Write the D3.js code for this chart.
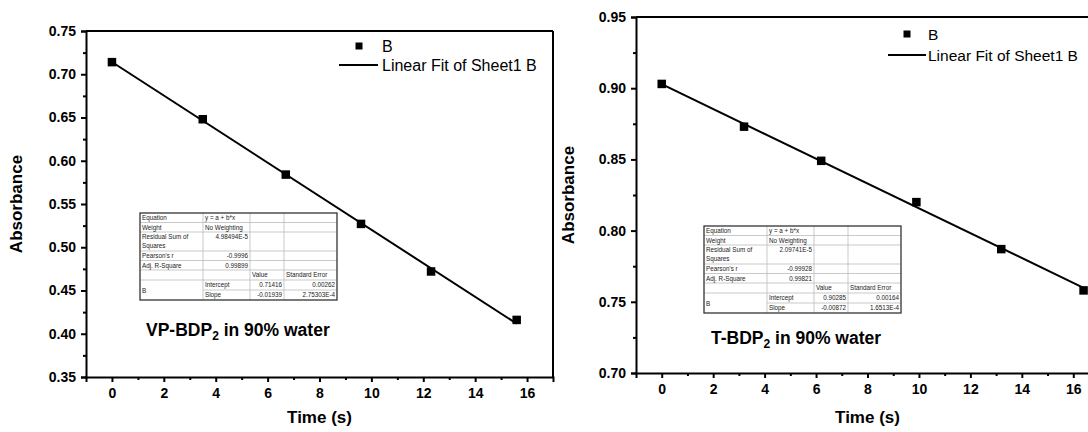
<!DOCTYPE html>
<html><head><meta charset="utf-8">
<script src="https://cdn.jsdelivr.net/npm/d3@7"></script>
<style>
html,body{margin:0;padding:0;background:#fff;}
svg{display:block;font-family:Arial,"Liberation Sans",sans-serif;}
</style></head>
<body>
<svg id="c" width="1088" height="432"></svg>
<script>
// ---- data ----
const timeVP = [0, 3.5, 6.7, 9.6, 12.3, 15.6];
const absVP  = [0.714, 0.648, 0.584, 0.527, 0.472, 0.416];
const fitVP  = {intercept: 0.71416, slope: -0.01939};
const timeT  = [0, 3.2, 6.2, 9.9, 13.2, 16.4];
const absT   = [0.903, 0.873, 0.849, 0.820, 0.787, 0.758];
const fitT   = {intercept: 0.90285, slope: -0.00872};
const xTicks = [0, 2, 4, 6, 8, 10, 12, 14, 16];
const yTicksVP = [0.35, 0.40, 0.45, 0.50, 0.55, 0.60, 0.65, 0.70, 0.75];
const yTicksT  = [0.70, 0.75, 0.80, 0.85, 0.90, 0.95];
const tableVP = [["Equation","y = a + b*x","",""],["Weight","No Weighting","",""],["Residual Sum of\nSquares","4.98494E-5","",""],["Pearson's r","-0.9996","",""],["Adj. R-Square","0.99899","",""],["","","Value","Standard Error"],["B","Intercept","0.71416","0.00262"],["","Slope","-0.01939","2.75303E-4"]];
const tableT = [["Equation","y = a + b*x","",""],["Weight","No Weighting","",""],["Residual Sum of\nSquares","2.09741E-5","",""],["Pearson's r","-0.99928","",""],["Adj. R-Square","0.99821","",""],["","","Value","Standard Error"],["B","Intercept","0.90285","0.00164"],["","Slope","-0.00872","1.6513E-4"]];
const legendLabels = ["B", "Linear Fit of Sheet1 B"];

const svg = d3.select("#c");
const FONT = "Arial,'Liberation Sans',sans-serif";

function panel(o) {
  const g = svg.append("g");
  const x = d3.scaleLinear().domain([-1, 17]).range([o.left, o.right]);
  const y = d3.scaleLinear().domain(o.ydom).range([o.bottom, o.top]);
  // frame
  g.append("line").attr("x1", o.left).attr("x2", o.right).attr("y1", o.top).attr("y2", o.top).attr("stroke","#000").attr("stroke-width",2);
  g.append("line").attr("x1", o.right).attr("x2", o.right).attr("y1", o.top).attr("y2", o.bottom).attr("stroke","#000").attr("stroke-width",2);
  // x axis
  const xMinor = d3.range(1, 17, 2);
  const xa = g.append("g").attr("transform", `translate(0,${o.bottom})`)
    .call(d3.axisBottom(x).tickValues(xTicks).tickSize(5).tickPadding(6).tickFormat(d3.format("d")));
  xa.select(".domain").attr("stroke-width", 2);
  xa.selectAll(".tick line").attr("stroke-width", 2);
  xa.selectAll("text").attr("font-size", 14).attr("font-weight","bold").attr("font-family",FONT);
  g.append("g").attr("transform", `translate(0,${o.bottom})`)
    .call(d3.axisBottom(x).tickValues(xMinor).tickSize(3).tickFormat(""))
    .call(s => { s.select(".domain").remove(); s.selectAll("line").attr("stroke-width",2); });
  // y axis
  const ya = g.append("g").attr("transform", `translate(${o.left},0)`)
    .call(d3.axisLeft(y).tickValues(o.yticks).tickSize(5).tickPadding(5).tickFormat(d3.format(".2f")));
  ya.select(".domain").attr("stroke-width", 2);
  ya.selectAll(".tick line").attr("stroke-width", 2);
  ya.selectAll("text").attr("font-size", 14).attr("font-weight","bold").attr("font-family",FONT);
  const yMinor = o.yticks.slice(0, -1).map((v, i) => (v + o.yticks[i + 1]) / 2);
  g.append("g").attr("transform", `translate(${o.left},0)`)
    .call(d3.axisLeft(y).tickValues(yMinor).tickSize(3).tickFormat(""))
    .call(s => { s.select(".domain").remove(); s.selectAll("line").attr("stroke-width",2); });
  // axis titles
  g.append("text").attr("transform", `translate(${o.ytx},${(o.top + o.bottom) / 2}) rotate(-90)`)
    .attr("text-anchor","middle").attr("font-size",17).attr("font-weight","bold").text("Absorbance");
  g.append("text").attr("x", x(8)).attr("y", o.xty).attr("text-anchor","middle")
    .attr("font-size",17).attr("font-weight","bold").text("Time (s)");
  // fit line
  const t0 = o.t[0], t1 = o.t[o.t.length - 1];
  g.append("line").attr("x1", x(t0)).attr("y1", y(o.fit.intercept + o.fit.slope * t0))
    .attr("x2", x(t1)).attr("y2", y(o.fit.intercept + o.fit.slope * t1))
    .attr("stroke","#000").attr("stroke-width",2);
  // points
  g.selectAll("rect.pt").data(o.t.map((t, i) => [t, o.a[i]])).join("rect").attr("class","pt")
    .attr("x", d => x(d[0]) - 4.25).attr("y", d => y(d[1]) - 4.25).attr("width", 8.5).attr("height", 8.5).attr("fill","#000");
  // legend
  const L = o.legend;
  g.append("rect").attr("x", L.mx - 3.5).attr("y", L.my - 3.5).attr("width", 7).attr("height", 7).attr("fill","#000");
  g.append("text").attr("x", L.tx).attr("y", L.my + 6).attr("font-size",L.fs).text(legendLabels[0]);
  g.append("line").attr("x1", L.lx1).attr("x2", L.lx2).attr("y1", L.ly).attr("y2", L.ly).attr("stroke","#000").attr("stroke-width",2);
  g.append("text").attr("x", L.tx).attr("y", L.ly + 6).attr("font-size",L.fs).text(legendLabels[1]);
  // annotation
  const an = g.append("text").attr("x", o.ann.x).attr("y", o.ann.y).attr("font-size",17.5).attr("font-weight","bold");
  an.append("tspan").text(o.ann.pre);
  an.append("tspan").attr("font-size",12).attr("dy",4).text("2");
  an.append("tspan").attr("dy",-4).text(" in 90% water");
  // table
  drawTable(g, o.table, o.tab.x, o.tab.y);
}

function drawTable(g, rows, tx, ty) {
  const colW = [63, 47, 34, 53];
  const rowH = [9.5, 9.5, 19, 9.5, 9.5, 10, 10, 10];
  const colX = [0]; colW.forEach(w => colX.push(colX[colX.length - 1] + w));
  const rowY = [0]; rowH.forEach(h => rowY.push(rowY[rowY.length - 1] + h));
  const W = colX[4], H = rowY[8];
  const t = g.append("g").attr("transform", `translate(${tx},${ty})`).attr("font-size", 6.3).attr("fill","#222");
  t.append("rect").attr("width", W).attr("height", H).attr("fill","#fff");
  for (let r = 1; r < 8; r++) {
    const x0 = (r === 7) ? colX[1] : 0;
    t.append("line").attr("x1", x0).attr("x2", W).attr("y1", rowY[r]).attr("y2", rowY[r]).attr("stroke","#bbb").attr("stroke-width",0.8);
  }
  for (let c = 1; c < 4; c++) {
    t.append("line").attr("x1", colX[c]).attr("x2", colX[c]).attr("y1", 0).attr("y2", H).attr("stroke","#bbb").attr("stroke-width",0.8);
  }
  t.append("rect").attr("width", W).attr("height", H).attr("fill","none").attr("stroke","#333").attr("stroke-width",1.3);
  rows.forEach((row, r) => {
    row.forEach((cell, c) => {
      if (!cell) return;
      const anchorEnd = /^-?[0-9]/.test(cell);
      const lines = cell.split("\n");
      let yy = rowY[r] + 7.2;
      if (r === 6 && c === 0) yy = rowY[6] + 12.5;
      lines.forEach((ln, k) => {
        t.append("text")
          .attr("x", anchorEnd ? colX[c + 1] - 2 : colX[c] + 2)
          .attr("y", yy + k * 9)
          .attr("text-anchor", anchorEnd ? "end" : "start")
          .text(ln);
      });
    });
  });
}

panel({left: 86, right: 553, top: 31, bottom: 377, ydom: [0.35, 0.75], yticks: yTicksVP,
  t: timeVP, a: absVP, fit: fitVP, ytx: 22, xty: 423,
  legend: {mx: 359, my: 46, tx: 382, lx1: 339, lx2: 378, ly: 65, fs: 16},
  ann: {x: 146, y: 336, pre: "VP-BDP"}, table: tableVP, tab: {x: 140, y: 213}});

panel({left: 636, right: 1099, top: 17, bottom: 373, ydom: [0.70, 0.95], yticks: yTicksT,
  t: timeT, a: absT, fit: fitT, ytx: 574, xty: 423,
  legend: {mx: 907, my: 34, tx: 928, lx1: 888, lx2: 926, ly: 55, fs: 15.5},
  ann: {x: 711, y: 344, pre: "T-BDP"}, table: tableT, tab: {x: 704, y: 226}});
</script>
</body></html>
